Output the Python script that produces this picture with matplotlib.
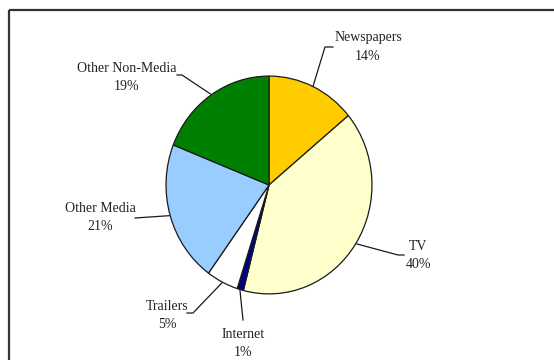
import numpy as np
import matplotlib
matplotlib.use("Agg")
import matplotlib.pyplot as plt
from matplotlib.patches import Rectangle

# Data
categories = ["Newspapers", "TV", "Internet", "Trailers", "Other Media", "Other Non-Media"]
shares = [14, 40, 1, 5, 21, 19]
colors = ["#FFCC00", "#FFFFCC", "#000080", "#FFFFFF", "#99CCFF", "#008000"]

W, H = 554, 360
fig = plt.figure(figsize=(W / 100, H / 100), dpi=100)
fig.patch.set_facecolor("white")

# overlay axes in pixel coordinates (y downward)
ov = fig.add_axes([0, 0, 1, 1])
ov.set_xlim(0, W)
ov.set_ylim(H, 0)
ov.axis("off")

# pie geometry (pixels)
cx, cy, rx, ry = 269, 185, 104, 110
pax = fig.add_axes([(cx - rx) / W, 1 - (cy + ry) / H, 2 * rx / W, 2 * ry / H])
wedges, _ = pax.pie(shares, colors=colors, startangle=90, counterclock=False,
                    radius=1, wedgeprops=dict(edgecolor="#1a1a1a", linewidth=0.9))
pax.set_xlim(-1.01, 1.01)
pax.set_ylim(-1.01, 1.01)
pax.set_aspect("auto")
pax.axis("off")

# frame
ov.add_patch(Rectangle((9, 10), 600, 400, fill=False, edgecolor="#333333", lw=1.6, zorder=0))

# label layout: (elbow points after the edge point, text center)
layout = {
    "Newspapers": ([(325, 47), (333, 47)], (368, 47)),
    "TV": ([(398, 255), (404, 255)], (418, 256)),
    "Internet": ([(243, 320)], (243, 343)),
    "Trailers": ([(193, 313), (187, 313)], (167, 315)),
    "Other Media": ([(135, 218)], (100, 218)),
    "Other Non-Media": ([(182, 75), (177, 75)], (127, 77)),
}

cum = np.cumsum([0] + shares)
total = float(sum(shares))
for i, (cat, val) in enumerate(zip(categories, shares)):
    mid = (cum[i] + cum[i + 1]) / 2 / total
    ang = np.deg2rad(90 - 360 * mid)
    ex, ey = cx + rx * np.cos(ang), cy - ry * np.sin(ang)
    pts, (tx, ty) = layout[cat]
    xs = [ex] + [p[0] for p in pts]
    ys = [ey] + [p[1] for p in pts]
    ov.plot(xs, ys, color="#1a1a1a", lw=0.9, zorder=3)
    ov.text(tx, ty, f"{cat}\n{val}%", ha="center", va="center",
            family="Liberation Serif", fontsize=10, color="#222222",
            linespacing=1.5, zorder=4)

fig.savefig("out.png", dpi=100, facecolor="white")
